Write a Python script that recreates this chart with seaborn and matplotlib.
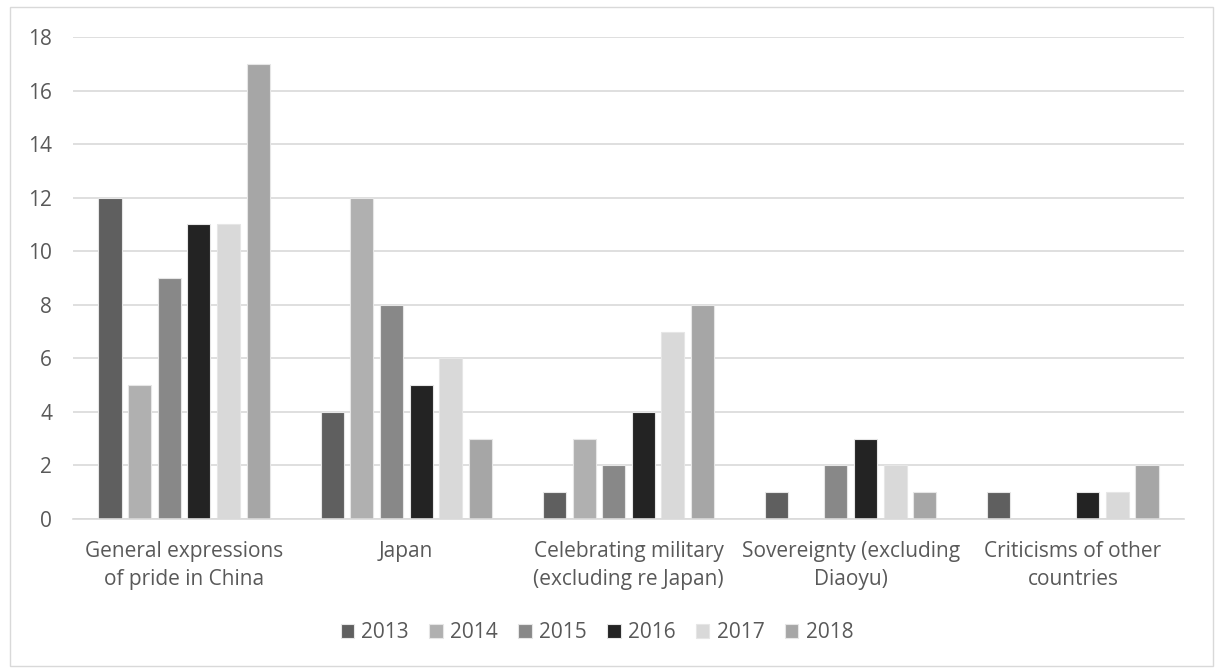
import pandas as pd
import numpy as np
import matplotlib.pyplot as plt
import seaborn as sns
from matplotlib.patches import Rectangle

categories = ['General expressions\nof pride in China', 'Japan',
              'Celebrating military\n(excluding re Japan)',
              'Sovereignty (excluding\nDiaoyu)', 'Criticisms of other\ncountries']
years = ['2013', '2014', '2015', '2016', '2017', '2018']
v2013 = [12, 4, 1, 1, 1]
v2014 = [5, 12, 3, 0, 0]
v2015 = [9, 8, 2, 2, 0]
v2016 = [11, 5, 4, 3, 1]
v2017 = [11, 6, 7, 2, 1]
v2018 = [17, 3, 8, 1, 2]
colors = ['#5f5f5f', '#b0b0b0', '#888888', '#232323', '#d9d9d9', '#a6a6a6']

rows = []
for y, vals in zip(years, [v2013, v2014, v2015, v2016, v2017, v2018]):
    for c, v in zip(categories, vals):
        rows.append({'category': c, 'year': y, 'count': v})
df = pd.DataFrame(rows)

sns.set_style('white')
plt.rcParams['font.family'] = ['Open Sans', 'DejaVu Sans']

fig = plt.figure(figsize=(12.19, 6.68), dpi=100)
ax = fig.add_axes([73 / 1219, 1 - 519 / 668, 1111 / 1219, 482 / 668])
sns.barplot(data=df, x='category', y='count', hue='year', palette=colors,
            width=0.8, gap=0.22, ax=ax, edgecolor='#e6e6e6', linewidth=0.8,
            saturation=1)

ax.set_ylim(0, 18)
ax.set_xlim(-0.5, 4.5)
ax.set_yticks(range(0, 19, 2))
ax.yaxis.grid(True, color='#d9d9d9', linewidth=1.2)
ax.set_axisbelow(True)
for s in ['top', 'right', 'left']:
    ax.spines[s].set_visible(False)
ax.spines['bottom'].set_color('#d9d9d9')
ax.spines['bottom'].set_linewidth(1.2)
ax.tick_params(axis='both', length=0, colors='#595959', labelsize=15)
ax.tick_params(axis='y', pad=15)
ax.tick_params(axis='x', pad=16)
for t in ax.get_xticklabels():
    t.set_linespacing(1.4)
ax.set_xlabel('')
ax.set_ylabel('')

handles, labels = ax.get_legend_handles_labels()
ax.get_legend().remove()
fig.legend(handles, labels, loc='center', bbox_to_anchor=(597 / 1219, 1 - 633 / 668),
           ncol=6, frameon=False, fontsize=15, handlelength=0.63, handleheight=0.63,
           handletextpad=0.35, columnspacing=1.0, labelcolor='#595959')

fig.patches.append(Rectangle((10 / 1219, 2 / 668), 1203 / 1219, 659 / 668,
                             transform=fig.transFigure, fill=False,
                             edgecolor='#d9d9d9', linewidth=1))

plt.savefig('out.png', dpi=100)
